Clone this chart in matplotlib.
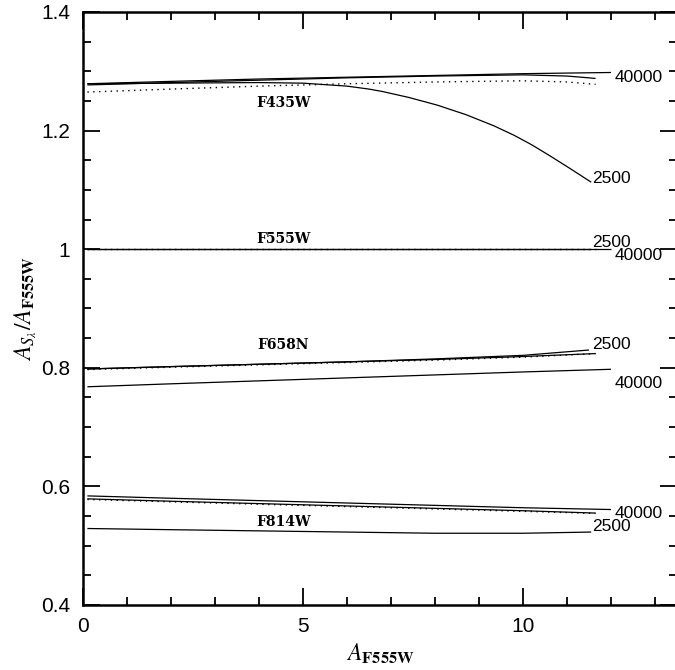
import numpy as np
import matplotlib
matplotlib.use("Agg")
import matplotlib.pyplot as plt
from matplotlib.ticker import MultipleLocator

plt.rcParams['mathtext.fontset'] = 'stix'

# ---- data ----
# F435W
f435_40000_x = [0.1, 2, 4, 6, 8, 10, 12.0]
f435_40000_y = [1.279, 1.283, 1.287, 1.290, 1.293, 1.296, 1.298]
f435_mid_x = [0.1, 2, 4, 6, 8, 10, 11, 11.65]
f435_mid_y = [1.277, 1.281, 1.285, 1.289, 1.292, 1.294, 1.292, 1.288]
f435_2500_x = [0.1, 2, 4, 5.0, 5.4, 6.0, 6.5, 6.8, 7.4, 8.05, 8.7, 9.34, 9.8,
               10.2, 10.6, 11.05, 11.55]
f435_2500_y = [1.279, 1.280, 1.281, 1.280, 1.278, 1.275, 1.270, 1.266, 1.256,
               1.243, 1.227, 1.208, 1.192, 1.176, 1.158, 1.137, 1.113]
f435_dot_x = [0.1, 2, 4, 6, 8, 10, 11, 11.65]
f435_dot_y = [1.265, 1.270, 1.275, 1.279, 1.282, 1.284, 1.282, 1.278]

# F555W
f555_2500_x = [0.1, 11.55]
f555_2500_y = [1.0, 1.0]
f555_40000_x = [0.1, 12.0]
f555_40000_y = [1.0, 1.0]
f555_dot_x = [0.1, 11.65]
f555_dot_y = [1.0, 1.0]

# F658N
f658_2500_x = [0.1, 2, 4, 6, 8, 10, 11.5]
f658_2500_y = [0.798, 0.802, 0.806, 0.810, 0.815, 0.821, 0.830]
f658_mid_x = [0.1, 2, 4, 6, 8, 10, 11.65]
f658_mid_y = [0.798, 0.802, 0.806, 0.810, 0.814, 0.819, 0.824]
f658_dot_x = [0.1, 2, 4, 6, 8, 10, 11.65]
f658_dot_y = [0.797, 0.801, 0.805, 0.809, 0.813, 0.818, 0.824]
f658_40000_x = [0.1, 2, 4, 6, 8, 10, 12.0]
f658_40000_y = [0.768, 0.773, 0.778, 0.783, 0.788, 0.793, 0.7975]

# F814W
f814_40000_x = [0.1, 2, 4, 6, 8, 10, 12.0]
f814_40000_y = [0.584, 0.580, 0.576, 0.572, 0.568, 0.564, 0.561]
f814_mid_x = [0.1, 2, 4, 6, 8, 10, 11.65]
f814_mid_y = [0.579, 0.575, 0.571, 0.567, 0.563, 0.559, 0.555]
f814_dot_x = [0.1, 2, 4, 6, 8, 10, 11.65]
f814_dot_y = [0.578, 0.574, 0.570, 0.566, 0.562, 0.558, 0.5545]
f814_2500_x = [0.1, 2, 4, 6, 8, 10, 11.55]
f814_2500_y = [0.529, 0.527, 0.525, 0.523, 0.521, 0.521, 0.523]

filter_labels = ["F435W", "F555W", "F658N", "F814W"]
filter_label_x = [4.55, 4.55, 4.55, 4.55]
filter_label_y = [1.246, 1.017, 0.8385, 0.540]

temp_labels = ["40000", "2500", "2500", "40000", "2500", "40000", "40000", "2500"]
temp_label_x = [12.09, 11.57, 11.57, 12.09, 11.57, 12.09, 12.09, 11.57]
temp_label_y = [1.289, 1.120, 1.0105, 0.990, 0.840, 0.774, 0.5546, 0.532]

xticks_major = [0, 5, 10]
yticks_major = [0.4, 0.6, 0.8, 1.0, 1.2, 1.4]
ytick_labels = ["0.4", "0.6", "0.8", "1", "1.2", "1.4"]

# ---- figure ----
fig = plt.figure(figsize=(6.75, 6.70), dpi=100)
ax = fig.add_axes([83/675, 65/670, (677-83)/675, (605-12)/670])

lw = 0.9
solid = dict(color='black', lw=lw, solid_capstyle='butt', solid_joinstyle='round')
dotted = dict(color='black', lw=1.0, linestyle=(0, (1, 3.2)))

for xs, ys in [(f435_40000_x, f435_40000_y), (f435_mid_x, f435_mid_y),
               (f435_2500_x, f435_2500_y),
               (f555_2500_x, f555_2500_y), (f555_40000_x, f555_40000_y),
               (f658_2500_x, f658_2500_y), (f658_mid_x, f658_mid_y),
               (f658_40000_x, f658_40000_y),
               (f814_40000_x, f814_40000_y), (f814_mid_x, f814_mid_y),
               (f814_2500_x, f814_2500_y)]:
    ax.plot(xs, ys, **solid)
for xs, ys in [(f435_dot_x, f435_dot_y), (f555_dot_x, f555_dot_y),
               (f658_dot_x, f658_dot_y), (f814_dot_x, f814_dot_y)]:
    ax.plot(xs, ys, **dotted)

for t, x, y in zip(filter_labels, filter_label_x, filter_label_y):
    ax.text(x, y, t, ha='center', va='center', family='DejaVu Serif',
            fontweight='bold', fontsize=10)
for t, x, y in zip(temp_labels, temp_label_x, temp_label_y):
    ax.text(x, y, t, ha='left', va='center', family='Liberation Sans',
            fontsize=12.5, clip_on=False)

ax.set_xlim(0, 13.5)
ax.set_ylim(0.4, 1.4)
ax.set_xticks(xticks_major)
ax.set_xticklabels([str(v) for v in xticks_major])
ax.set_yticks(yticks_major)
ax.set_yticklabels(ytick_labels)
ax.xaxis.set_minor_locator(MultipleLocator(1))
ax.yaxis.set_minor_locator(MultipleLocator(0.05))
ax.tick_params(which='both', direction='in', top=True, right=True, width=1.3,
               labelsize=15, pad=9)
ax.tick_params(which='major', length=12)
ax.tick_params(which='minor', length=5.5)
for lab in ax.get_xticklabels() + ax.get_yticklabels():
    lab.set_family('Liberation Sans')
for s in ax.spines.values():
    s.set_linewidth(1.8)

ax.set_xlabel(r'$A_{\mathbf{F555W}}$', fontsize=17, labelpad=4)
ax.set_ylabel(r'$A_{S_\lambda}/A_{\mathbf{F555W}}$', fontsize=17, labelpad=2)

fig.savefig('out.png', dpi=100)
